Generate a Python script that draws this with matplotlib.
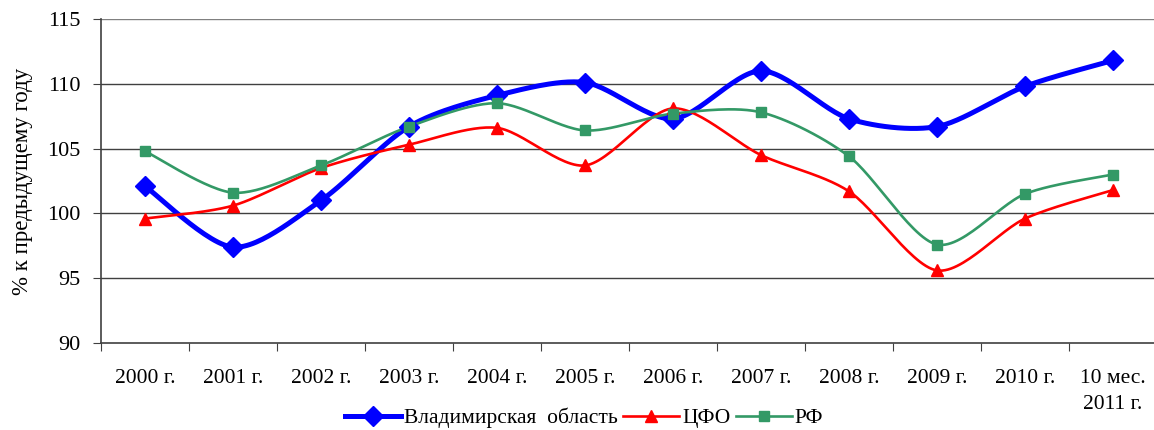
import numpy as np
import matplotlib
matplotlib.use("Agg")
import matplotlib.pyplot as plt
from matplotlib.lines import Line2D

categories = ["2000 г.", "2001 г.", "2002 г.", "2003 г.", "2004 г.", "2005 г.",
              "2006 г.", "2007 г.", "2008 г.", "2009 г.", "2010 г.", "10 мес.\n2011 г."]
vladimir = [102.1, 97.4, 101.0, 106.7, 109.1, 110.1, 107.3, 111.0, 107.3, 106.7, 109.8, 111.8]
cfo = [99.6, 100.6, 103.5, 105.3, 106.6, 103.7, 108.1, 104.5, 101.7, 95.6, 99.6, 101.8]
rf = [104.8, 101.6, 103.7, 106.7, 108.5, 106.4, 107.7, 107.8, 104.4, 97.6, 101.5, 103.0]
series_names = ["Владимирская  область", "ЦФО", "РФ"]
y_ticks = [90, 95, 100, 105, 110, 115]

plt.rcParams['font.family'] = ['Liberation Serif', 'DejaVu Serif']


def smooth(xs, ys, n=30, k=7.0):
    xs = np.asarray(xs, float)
    ys = np.asarray(ys, float)
    P = np.column_stack([xs, ys])
    m = len(P)
    out = []
    for i in range(m - 1):
        p0 = P[i - 1] if i > 0 else P[i]
        p1 = P[i]
        p2 = P[i + 1]
        p3 = P[i + 2] if i + 2 < m else P[i + 1]
        c1 = p1 + (p2 - p0) / k
        c2 = p2 - (p3 - p1) / k
        t = np.linspace(0, 1, n)[:, None]
        seg = ((1 - t) ** 3) * p1 + 3 * ((1 - t) ** 2) * t * c1 + 3 * (1 - t) * t ** 2 * c2 + t ** 3 * p2
        out.append(seg if i == 0 else seg[1:])
    arr = np.vstack(out)
    return arr[:, 0], arr[:, 1]


fig = plt.figure(figsize=(11.54, 4.30), dpi=100)
ax = fig.add_axes([101 / 1154, 1 - 343 / 430, 1056 / 1154, 324 / 430])

x = np.arange(len(categories))
styles = [
    (vladimir, '#0000FF', 3.6, 'D', 10),
    (cfo, '#FF0000', 1.9, '^', 9),
    (rf, '#339966', 1.9, 's', 7),
]
handles = []
for (vals, color, lw, mk, ms), name in zip(styles, series_names):
    sx, sy = smooth(x, vals)
    ax.plot(sx, sy, color=color, lw=lw, solid_capstyle='round', zorder=3)
    ax.plot(x, vals, linestyle='none', marker=mk, markersize=ms, color=color, zorder=4)
    handles.append(Line2D([0], [0], color=color, lw=lw, marker=mk, markersize=ms))

ax.set_xlim(-0.5, len(categories) - 0.5)
ax.set_ylim(90, 115)
ax.set_yticks(y_ticks)
ax.set_yticklabels([str(v) for v in y_ticks], fontsize=16)
for v in y_ticks[1:]:
    ax.axhline(v, color='#808080' if v == 115 else '#404040', lw=1.0, zorder=1)
ax.set_xticks(np.arange(-0.5, len(categories), 1.0))
ax.set_xticklabels([])
ax.set_xticks(x, minor=True)
ax.set_xticklabels(categories, minor=True, fontsize=15.5, va='top', linespacing=1.5)
ax.tick_params(axis='x', which='minor', length=0, pad=19)
ax.tick_params(axis='x', which='major', length=6, direction='out', color='#404040')
ax.tick_params(axis='y', length=6, direction='out', color='#404040', pad=9)
for s in ['top', 'right']:
    ax.spines[s].set_visible(False)
for s in ['left', 'bottom']:
    ax.spines[s].set_color('#404040')
    ax.spines[s].set_linewidth(1.2)
ax.set_ylabel("% к предыдущему году", fontsize=16.5, labelpad=10)

fig.legend(handles, series_names, loc='center', bbox_to_anchor=(584 / 1154, 1 - 418 / 430),
           ncol=3, frameon=False, fontsize=15.5, handlelength=2.6, handletextpad=0.15,
           columnspacing=0.25, borderpad=0)

fig.savefig("out.png", dpi=100)
